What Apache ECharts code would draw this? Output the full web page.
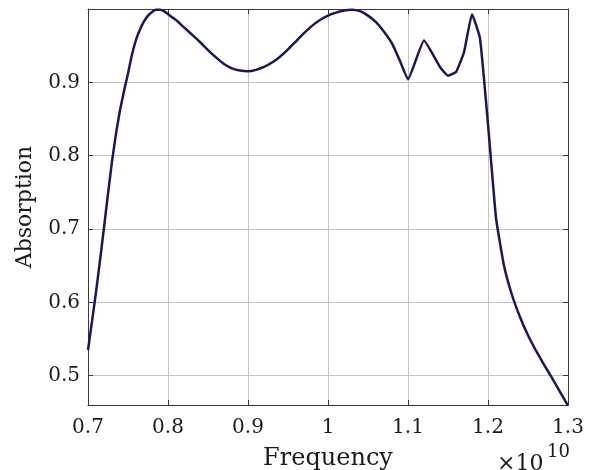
<!DOCTYPE html>
<html>
<head>
<meta charset="utf-8">
<script src="https://cdn.jsdelivr.net/npm/echarts@6/dist/echarts.min.js"></script>
<style>
  html, body { margin: 0; padding: 0; background: #ffffff; }
  #chart { width: 600px; height: 470px; }
</style>
</head>
<body>
<div id="chart"></div>
<script>
// Frequency samples (in units of 1e10 Hz) and absorption at each one
const frequency = [
  0.700, 0.705, 0.710, 0.715, 0.720, 0.725, 0.730, 0.735, 0.740, 0.745,
  0.750, 0.755, 0.760, 0.765, 0.770, 0.775, 0.780, 0.785, 0.790, 0.795,
  0.800, 0.810, 0.820, 0.830, 0.840, 0.850, 0.860, 0.870, 0.880, 0.890,
  0.900, 0.910, 0.920, 0.930, 0.940, 0.950, 0.960, 0.970, 0.980, 0.990,
  1.000, 1.010, 1.020, 1.030, 1.040, 1.050, 1.060, 1.070, 1.080, 1.090,
  1.100, 1.120, 1.140, 1.150, 1.160, 1.170, 1.180, 1.190, 1.200, 1.210,
  1.220, 1.230, 1.240, 1.250, 1.260, 1.270, 1.280, 1.290, 1.300
];
const absorption = [
  0.535, 0.574, 0.614, 0.657, 0.702, 0.748, 0.792, 0.830, 0.862, 0.888,
  0.912, 0.938, 0.958, 0.972, 0.983, 0.991, 0.996, 0.999, 0.999, 0.997,
  0.993, 0.985, 0.975, 0.965, 0.955, 0.944, 0.934, 0.925, 0.919, 0.916,
  0.915, 0.917, 0.921, 0.927, 0.935, 0.945, 0.956, 0.967, 0.977, 0.985,
  0.991, 0.995, 0.998, 0.999, 0.997, 0.991, 0.982, 0.969, 0.953, 0.929,
  0.904, 0.957, 0.921, 0.909, 0.914, 0.941, 0.993, 0.960, 0.843, 0.715,
  0.650, 0.610, 0.580, 0.555, 0.534, 0.515, 0.497, 0.478, 0.459
];
// Axis ranges
const xRange = [0.7, 1.3];
const yRange = [0.46, 1.0];

const serif = '"DejaVu Serif", "Liberation Serif", serif';
const frameColor = '#3a3a3a';
const gridColor = '#c4c4c4';

const chart = echarts.init(document.getElementById('chart'), null, { renderer: 'canvas' });

const points = frequency.map((f, i) => [f, absorption[i]]);

// Top and right axes only close the frame and carry inward ticks
const frameAxis = {
  axisLine: { show: true, lineStyle: { color: frameColor, width: 1 } },
  axisTick: { show: true, inside: true, length: 5, lineStyle: { color: frameColor, width: 1 } },
  axisLabel: { show: false },
  splitLine: { show: false }
};

chart.setOption({
  backgroundColor: '#ffffff',
  animation: false,
  grid: { left: 88, right: 32, top: 9, bottom: 65, containLabel: false, outerBoundsMode: 'none' },
  xAxis: [
    {
      type: 'value',
      position: 'bottom',
      min: xRange[0],
      max: xRange[1],
      interval: 0.1,
      name: 'Frequency',
      nameLocation: 'middle',
      nameGap: 42,
      nameTextStyle: { fontFamily: serif, fontSize: 24, color: '#1a1a1a' },
      axisLine: { show: true, onZero: false, lineStyle: { color: frameColor, width: 1 } },
      axisTick: { show: true, inside: true, length: 5, lineStyle: { color: frameColor } },
      axisLabel: { fontFamily: serif, fontSize: 20, color: '#1a1a1a', margin: 13 },
      splitLine: { show: true, lineStyle: { color: gridColor, width: 1 } }
    },
    Object.assign({ type: 'value', position: 'top', min: xRange[0], max: xRange[1], interval: 0.1 }, frameAxis)
  ],
  yAxis: [
    {
      type: 'value',
      position: 'left',
      min: yRange[0],
      max: yRange[1],
      splitNumber: 5,
      name: 'Absorption',
      nameLocation: 'middle',
      nameGap: 52,
      nameRotate: 90,
      nameTextStyle: { fontFamily: serif, fontSize: 22, color: '#1a1a1a' },
      axisLine: { show: true, onZero: false, lineStyle: { color: frameColor, width: 1 } },
      axisTick: { show: true, inside: true, length: 5, lineStyle: { color: frameColor } },
      axisLabel: {
        fontFamily: serif, fontSize: 20, color: '#1a1a1a', margin: 8,
        showMinLabel: false, showMaxLabel: false
      },
      splitLine: { show: true, lineStyle: { color: gridColor, width: 1 } }
    },
    Object.assign({ type: 'value', position: 'right', min: yRange[0], max: yRange[1], splitNumber: 5 }, frameAxis)
  ],
  graphic: [
    // Scale factor of the frequency axis: ×10^10
    {
      type: 'text',
      left: 497,
      top: 453,
      style: { text: '×10', font: '22px ' + serif, fill: '#1a1a1a' }
    },
    {
      type: 'text',
      left: 547,
      top: 443,
      style: { text: '10', font: '18px ' + serif, fill: '#1a1a1a' }
    }
  ],
  series: [
    {
      type: 'line',
      data: points,
      showSymbol: false,
      smooth: 0.12,
      clip: true,
      lineStyle: { color: '#17175c', width: 2.5 },
      itemStyle: { color: '#17175c' }
    }
  ]
});
</script>
</body>
</html>
